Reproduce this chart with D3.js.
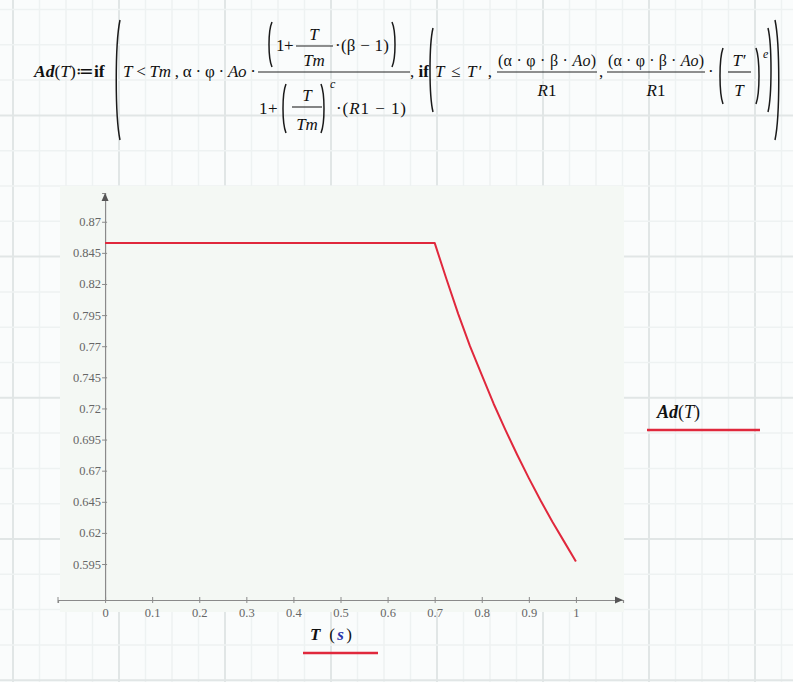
<!DOCTYPE html>
<html>
<head>
<meta charset="utf-8">
<script src="https://cdn.jsdelivr.net/npm/d3@7"></script>
<style>
  html, body { margin: 0; padding: 0; background: #fafcfc; }
  svg { display: block; }
  .math { font-family: "Liberation Serif", "DejaVu Serif", serif; fill: #111; }
  .tick-label { font-family: "Liberation Serif", serif; font-size: 12.5px; fill: #666; }
</style>
</head>
<body>
<div id="chart"></div>
<script>
// data
var periodT = [0, 0.7, 0.725, 0.75, 0.775, 0.8, 0.825, 0.85, 0.875, 0.9, 0.925, 0.95, 0.975, 1.0];
var adValues = [0.853, 0.853, 0.824, 0.796, 0.770, 0.747, 0.724, 0.703, 0.683, 0.664, 0.646, 0.629, 0.613, 0.597];
var yTicks = [0.595, 0.62, 0.645, 0.67, 0.695, 0.72, 0.745, 0.77, 0.795, 0.82, 0.845, 0.87];
var xTicks = [0, 0.1, 0.2, 0.3, 0.4, 0.5, 0.6, 0.7, 0.8, 0.9, 1];

var W = 793, H = 682;
var curveColor = '#e0283c';

var svg = d3.select('#chart').append('svg')
    .attr('width', W)
    .attr('height', H);

drawWorksheetGrid();
drawFormula();
drawPlot();
drawLabels();

function drawWorksheetGrid() {
    svg.append('rect').attr('width', W).attr('height', H).attr('fill', '#fafcfc');

    let g = svg.append('g');
    d3.range(0, 30).forEach(function (k) {
        let x = 13 + k * 26.5;
        g.append('line')
            .attr('x1', x).attr('x2', x).attr('y1', 0).attr('y2', H)
            .attr('stroke', k % 4 === 0 ? '#e1e6e6' : '#eef2f2')
            .attr('stroke-width', k % 4 === 0 ? 2 : 1.5);
    });
    d3.range(0, 20).forEach(function (k) {
        let y = 9.5 + k * 35.3;
        g.append('line')
            .attr('x1', 0).attr('x2', W).attr('y1', y).attr('y2', y)
            .attr('stroke', (k % 4 === 3) ? '#e1e6e6' : '#eef2f2')
            .attr('stroke-width', (k % 4 === 3) ? 2 : 1.5);
    });
}

// small helpers for the formula
function txt(x, y, str, size, anchor, italic, len) {
    let t = svg.append('text').attr('class', 'math')
        .attr('x', x).attr('y', y)
        .attr('font-size', size)
        .attr('text-anchor', anchor || 'start')
        .attr('font-style', italic ? 'italic' : 'normal')
        .text(str);
    if (len) t.attr('textLength', len).attr('lengthAdjust', 'spacing');
    return t;
}

function bar(x1, x2, y) {
    svg.append('line').attr('x1', x1).attr('x2', x2).attr('y1', y).attr('y2', y)
        .attr('stroke', '#222').attr('stroke-width', 1.1);
}

function paren(x, y1, y2, left, w) {
    w = w || 4;
    let xs = left ? x + w : x - w;
    let h = y2 - y1;
    let path = `M${xs},${y1} C${x},${y1 + h * 0.2} ${x},${y2 - h * 0.2} ${xs},${y2}`;
    svg.append('path').attr('d', path).attr('fill', 'none')
        .attr('stroke', '#1a1a1a').attr('stroke-width', 1.5);
}

function drawFormula() {
    let base = 77, fs = 17;

    // Ad(T) := if
    let t = txt(34, base, '', 17.5, 'start');
    t.append('tspan').attr('font-style', 'italic').attr('font-weight', 'bold').text('Ad');
    t.append('tspan').text('(');
    t.append('tspan').attr('font-style', 'italic').text('T');
    t.append('tspan').text(')');
    t.append('tspan').text('\u2254');
    t.append('tspan').attr('font-weight', 'bold').text('if');

    paren(115, 20, 140, true, 5);

    let t2 = txt(123, base, '', fs, 'start', false, 133);
    t2.append('tspan').attr('font-style', 'italic').text('T');
    t2.append('tspan').text(' < ');
    t2.append('tspan').attr('font-style', 'italic').text('Tm');
    t2.append('tspan').text(' , \u03b1 \u00b7 \u03c6 \u00b7 ');
    t2.append('tspan').attr('font-style', 'italic').text('Ao');
    t2.append('tspan').text(' \u00b7');

    // main fraction
    bar(258, 410, 72);

    // numerator (1 + T/Tm·(β−1))
    paren(268, 22, 67, true, 4);
    txt(276, 51, '1', fs);
    txt(284, 51, '+', fs);
    txt(314, 40, 'T', fs, 'middle', true);
    bar(296, 333, 46);
    txt(314, 66, 'Tm', fs, 'middle', true);
    txt(335, 51, '\u00b7(\u03b2 \u2212 1)', fs, 'start', false, 54);
    paren(396, 22, 67, false, 4);

    // denominator 1 + (T/Tm)^c·(R1−1)
    txt(259, 114, '1', fs);
    txt(268, 114, '+', fs);
    paren(282, 84, 133, true, 4);
    txt(307, 101, 'T', fs, 'middle', true);
    bar(292, 322, 107);
    txt(307, 130, 'Tm', fs, 'middle', true);
    paren(325, 84, 133, false, 4);
    txt(330, 88, 'c', 12, 'start', true);
    let den = txt(336, 114, '', fs, 'start', false, 70);
    den.append('tspan').text('\u00b7(');
    den.append('tspan').attr('font-style', 'italic').text('R');
    den.append('tspan').text('1 \u2212 1)');

    // , if( T ≤ T',
    let t3 = txt(410, base, ', ', fs, 'start');
    t3.append('tspan').attr('font-weight', 'bold').text('if');
    paren(429, 28, 112, true, 4);
    let t4 = txt(435, base, '', fs, 'start', false, 57);
    t4.append('tspan').attr('font-style', 'italic').text('T');
    t4.append('tspan').text(' \u2264 ');
    t4.append('tspan').attr('font-style', 'italic').text('T\u2032');
    t4.append('tspan').text(' ,');

    // (α·φ·β·Ao)/R1 , twice
    [[497, 597], [607, 705]].forEach(function (p) {
        let cx = (p[0] + p[1]) / 2;
        let n = txt(p[0] + 1, 66, '', 16, 'start', false, p[1] - p[0] - 2);
        n.append('tspan').text('(\u03b1 \u00b7 \u03c6 \u00b7 \u03b2 \u00b7 ');
        n.append('tspan').attr('font-style', 'italic').text('Ao');
        n.append('tspan').text(')');
        bar(p[0], p[1], 72);
        let d = txt(cx, 96, '', fs, 'middle');
        d.append('tspan').attr('font-style', 'italic').text('R');
        d.append('tspan').text('1');
    });
    txt(599, base, ',', fs);
    txt(708, base, '\u00b7', fs);

    // (T'/T)^e
    paren(719, 48, 104, true, 4);
    txt(739, 66, 'T\u2032', fs, 'middle', true);
    bar(728, 751, 72);
    txt(739, 96, 'T', fs, 'middle', true);
    paren(760, 48, 104, false, 4);
    txt(763, 58, 'e', 12, 'start', true);
    paren(772, 28, 112, false, 4);
    paren(780, 20, 140, false, 5);
}

function drawPlot() {
    let xScale = d3.scaleLinear().domain([-0.1, 1.1]).range([58, 623]);
    let yScale = d3.scaleLinear().domain([0.5661, 0.8931]).range([600, 193]);

    // plot area background
    svg.append('rect')
        .attr('x', 60).attr('y', 186)
        .attr('width', 564).attr('height', 426)
        .attr('fill', '#f4f8f4');

    let axisColor = '#8a8a8a';

    // x axis
    let xAxis = d3.axisBottom(xScale)
        .tickValues(xTicks)
        .tickSize(3)
        .tickFormat(d3.format(''));
    let gx = svg.append('g')
        .attr('transform', `translate(0,${yScale(0.5661)})`)
        .call(xAxis);
    gx.select('.domain').attr('stroke', axisColor).attr('stroke-width', 1.2);
    gx.selectAll('.tick line').attr('stroke', axisColor).attr('y1', -3);
    gx.selectAll('.tick text').attr('class', 'tick-label').attr('dy', '0.9em');

    // y axis sits at T = 0
    let yAxis = d3.axisLeft(yScale)
        .tickValues(yTicks)
        .tickSize(3)
        .tickFormat(d3.format(''));
    let gy = svg.append('g')
        .attr('transform', `translate(${xScale(0)},0)`)
        .call(yAxis);
    gy.select('.domain').attr('stroke', axisColor).attr('stroke-width', 1.2);
    gy.selectAll('.tick line').attr('stroke', axisColor).attr('x2', 2).attr('x1', -3);
    gy.selectAll('.tick text').attr('class', 'tick-label').attr('x', -4);

    // axis end marks and arrows
    svg.append('line')
        .attr('x1', xScale(-0.1)).attr('x2', xScale(-0.1))
        .attr('y1', yScale(0.5661) - 3).attr('y2', yScale(0.5661) + 3)
        .attr('stroke', axisColor);
    let xe = xScale(1.1), ye = yScale(0.5661);
    svg.append('path')
        .attr('d', `M${xe},${ye} L${xe - 8},${ye - 3.5} L${xe - 8},${ye + 3.5} Z`)
        .attr('fill', '#555');
    let yx = xScale(0), yt = yScale(0.8931);
    svg.append('path')
        .attr('d', `M${yx},${yt} L${yx - 3.5},${yt + 8} L${yx + 3.5},${yt + 8} Z`)
        .attr('fill', '#555');

    // the curve
    let points = periodT.map((t, i) => [t, adValues[i]]);
    let line = d3.line()
        .x(d => xScale(d[0]))
        .y(d => yScale(d[1]))
        .curve(d3.curveLinear);
    svg.append('path')
        .datum(points)
        .attr('d', line)
        .attr('fill', 'none')
        .attr('stroke', curveColor)
        .attr('stroke-width', 2)
        .attr('stroke-linejoin', 'round');
}

function drawLabels() {
    // legend trace name
    let lg = txt(657, 418, '', 18, 'start');
    lg.append('tspan').attr('font-style', 'italic').attr('font-weight', 'bold').text('Ad');
    lg.append('tspan').text('(');
    lg.append('tspan').attr('font-style', 'italic').text('T');
    lg.append('tspan').text(')');
    svg.append('line')
        .attr('x1', 647).attr('x2', 760).attr('y1', 430).attr('y2', 430)
        .attr('stroke', curveColor).attr('stroke-width', 2.5);

    // x axis variable
    let xl = txt(310, 640, '', 17, 'start', false, 42);
    xl.append('tspan').attr('font-style', 'italic').attr('font-weight', 'bold').text('T');
    xl.append('tspan').text('  (');
    xl.append('tspan').attr('font-style', 'italic').attr('font-weight', 'bold').attr('fill', '#2a35a8').text('s');
    xl.append('tspan').text(')');
    svg.append('line')
        .attr('x1', 303).attr('x2', 378).attr('y1', 653).attr('y2', 653)
        .attr('stroke', curveColor).attr('stroke-width', 2.5);
}
</script>
</body>
</html>
